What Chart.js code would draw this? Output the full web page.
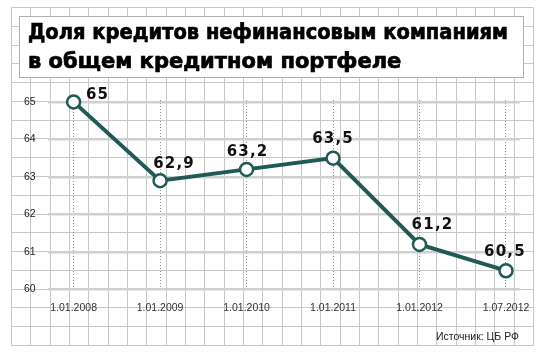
<!DOCTYPE html>
<html>
<head>
<meta charset="utf-8">
<script src="https://cdn.jsdelivr.net/npm/chart.js@4"></script>
<style>
  html, body { margin: 0; padding: 0; background: #fff; }
  #wrap { width: 542px; height: 352px; }
</style>
</head>
<body>
<div id="wrap"><canvas id="chart"></canvas></div>
<script>
// Доля кредитов нефинансовым компаниям, %
const TITLE_LINES = ["Доля кредитов нефинансовым компаниям", "в общем кредитном портфеле"];
const SOURCE = "Источник: ЦБ РФ";
const DATES = ["1.01.2008", "1.01.2009", "1.01.2010", "1.01.2011", "1.01.2012", "1.07.2012"];
const SHARE = [65, 62.9, 63.2, 63.5, 61.2, 60.5];
const Y_TICKS = [60, 61, 62, 63, 64, 65];

const LINE_COLOR = "#1f5a55";
const SMALL = '"Liberation Sans", Arial, sans-serif';

// label nudges relative to each point (px)
const LABEL_SHIFT = [[24, -7], [14, -17], [1, -17], [0, -19], [13, -19], [-1, -19]];

function fmt(v) {
  return String(v).replace(".", ",");
}

const paperPlugin = {
  id: "paper",
  beforeDraw(chart) {
    const ctx = chart.ctx;
    ctx.save();
    ctx.fillStyle = "#fff";
    ctx.fillRect(0, 0, chart.width, chart.height);

    // graph paper
    const x0 = 11, y0 = 7, cols = 27, rows = 18, cw = 19.33, rh = 18.78;
    ctx.strokeStyle = "#c8c8c8";
    ctx.lineWidth = 1;
    ctx.beginPath();
    for (let i = 0; i <= cols; i++) {
      const x = Math.round(x0 + i * cw) + 0.5;
      ctx.moveTo(x, y0 + 0.5);
      ctx.lineTo(x, Math.round(y0 + rows * rh) + 0.5);
    }
    for (let j = 0; j <= rows; j++) {
      const y = Math.round(y0 + j * rh) + 0.5;
      ctx.moveTo(x0 + 0.5, y);
      ctx.lineTo(Math.round(x0 + cols * cw) + 0.5, y);
    }
    ctx.stroke();

    // title box
    ctx.fillStyle = "#fff";
    ctx.fillRect(19, 16, 504, 61);
    ctx.strokeStyle = "#b0b0b0";
    ctx.strokeRect(19.5, 16.5, 504, 61);

    ctx.fillStyle = "#000";
    ctx.strokeStyle = "#000";
    ctx.lineWidth = 0.7;
    ctx.font = 'bold 21px "DejaVu Sans", sans-serif';
    ctx.textBaseline = "alphabetic";
    ctx.textAlign = "left";
    ctx.fillText(TITLE_LINES[0], 28, 39, 480);
    ctx.strokeText(TITLE_LINES[0], 28, 39, 480);
    ctx.fillText(TITLE_LINES[1], 28, 68, 480);
    ctx.strokeText(TITLE_LINES[1], 28, 68, 480);
    ctx.restore();
  },
  afterDraw(chart) {
    const ctx = chart.ctx;
    ctx.save();
    ctx.fillStyle = "#222";
    ctx.font = "10.5px " + SMALL;
    ctx.textAlign = "right";
    ctx.textBaseline = "alphabetic";
    ctx.fillText(SOURCE, 519, 340);
    ctx.restore();
  }
};

const valueLabels = {
  id: "valueLabels",
  afterDatasetsDraw(chart) {
    const ctx = chart.ctx;
    const meta = chart.getDatasetMeta(0);
    ctx.save();
    ctx.fillStyle = "#111";
    ctx.font = 'bold 15px "DejaVu Sans", sans-serif';
    ctx.letterSpacing = "1.2px";
    ctx.textAlign = "center";
    ctx.textBaseline = "middle";
    meta.data.forEach((pt, i) => {
      const s = LABEL_SHIFT[i] || [0, -18];
      ctx.fillText(fmt(SHARE[i]), pt.x + s[0], pt.y + s[1]);
    });
    ctx.restore();
  }
};

new Chart(document.getElementById("chart"), {
  type: "line",
  data: {
    datasets: [{
      data: SHARE.map((v, i) => ({ x: i, y: v })),
      borderColor: LINE_COLOR,
      borderWidth: 4,
      pointRadius: 6.5,
      pointBorderWidth: 2.5,
      pointBackgroundColor: "#fff",
      pointBorderColor: LINE_COLOR,
      tension: 0,
      clip: false,
    }],
  },
  options: {
    responsive: true,
    maintainAspectRatio: false,
    animation: false,
    layout: { padding: { left: 12, right: 22, top: 100, bottom: 26 } },
    plugins: {
      legend: { display: false },
      tooltip: { enabled: false },
    },
    scales: {
      x: {
        type: "linear",
        min: -0.3,
        max: 5.16,
        afterBuildTicks: (axis) => {
          axis.ticks = DATES.map((d, i) => ({ value: i }));
        },
        ticks: {
          callback: (v) => DATES[v],
          color: "#333",
          font: { family: SMALL, size: 10.5 },
          padding: 12,
          maxRotation: 0,
          autoSkip: false,
        },
        grid: {
          color: "#8a8a8a",
          lineWidth: 1,
          drawTicks: false,
        },
        border: { display: false, dash: [1, 2] },
      },
      y: {
        min: 60,
        max: 65.05,
        afterBuildTicks: (axis) => {
          axis.ticks = Y_TICKS.map((v) => ({ value: v }));
        },
        ticks: {
          color: "#222",
          font: { family: SMALL, size: 10.5 },
          padding: 12,
        },
        grid: {
          color: "#d0d0d0",
          lineWidth: 2.5,
          drawTicks: false,
        },
        border: { display: false },
      },
    },
  },
  plugins: [paperPlugin, valueLabels],
});
</script>
</body>
</html>
